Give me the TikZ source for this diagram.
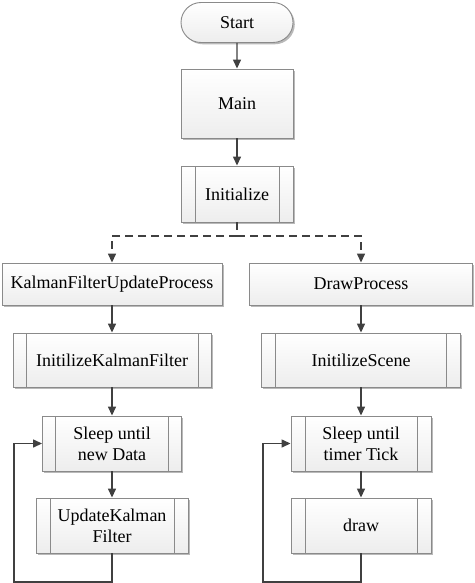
\documentclass[tikz,border=0pt]{standalone}
\usepackage{fontspec}
\setmainfont{Liberation Serif}
\usetikzlibrary{arrows.meta,shadows,shapes.misc}
\definecolor{edgec}{HTML}{8A8A8A}
\definecolor{linec}{HTML}{404040}
\tikzset{
  box/.style={draw=edgec, line width=0.9pt, top color=white, bottom color=gray!14,
    general shadow={fill=gray!55, shadow xshift=1.8pt, shadow yshift=-1.8pt},
    font=\fontsize{18}{21}\selectfont, align=center, inner sep=0pt},
  predef/.style={box, path picture={
    \draw[edgec, line width=0.9pt] ([xshift=#1]path picture bounding box.north west) -- ([xshift=#1]path picture bounding box.south west);
    \draw[edgec, line width=0.9pt] ([xshift=-#1]path picture bounding box.north east) -- ([xshift=-#1]path picture bounding box.south east);}},
  arr/.style={draw=linec, line width=1.4pt, -{Triangle[length=9pt,width=8pt]}},
  dsh/.style={arr, dash pattern=on 8pt off 5pt},
  lin/.style={draw=linec, line width=1.4pt}
}
\begin{document}
\begin{tikzpicture}[x=1pt,y=-1pt]
\useasboundingbox (0,0) rectangle (474,583);
\node[box, rounded rectangle, minimum width=112pt, minimum height=40pt] (start) at (237,22.5) {Start};
\node[box, minimum width=112pt, minimum height=69pt] (main) at (237,103.5) {Main};
\node[predef=14pt, minimum width=112pt, minimum height=56pt] (init) at (237,194) {Initialize};
\node[box, minimum width=220pt, minimum height=42pt] (kfup) at (112,284) {KalmanFilterUpdateProcess};
\node[box, minimum width=223pt, minimum height=42pt] (dp) at (361,284) {DrawProcess};
\node[predef=13pt, minimum width=198pt, minimum height=54pt] (ikf) at (112,360) {InitilizeKalmanFilter};
\node[predef=14pt, minimum width=199pt, minimum height=54pt] (is) at (361,360) {InitilizeScene};
\node[predef=13pt, minimum width=139pt, minimum height=55pt] (sd) at (112,443.5) {Sleep until\\new Data};
\node[predef=14pt, minimum width=152pt, minimum height=55pt] (uk) at (112,525.5) {UpdateKalman\\Filter};
\node[predef=14pt, minimum width=140pt, minimum height=55pt] (st) at (361,443.5) {Sleep until\\timer Tick};
\node[predef=14pt, minimum width=140pt, minimum height=55pt] (dr) at (361,525.5) {draw};
\coordinate (split) at (237,236);
\coordinate (lb) at (14,582);
\coordinate (rb) at (263,582);
\draw[arr] (start) -- (main);
\draw[arr] (main) -- (init);
\draw[lin, dash pattern=on 8pt off 5pt] (init) -- (split);
\draw[dsh] (split) -| (kfup);
\draw[dsh] (split) -| (dp);
\draw[arr] (kfup) -- (ikf);
\draw[arr] (ikf) -- (sd);
\draw[arr] (sd) -- (uk);
\draw[arr] (uk.south) |- (lb) |- (sd.west);
\draw[arr] (dp) -- (is);
\draw[arr] (is) -- (st);
\draw[arr] (st) -- (dr);
\draw[arr] (dr.south) |- (rb) |- (st.west);
\end{tikzpicture}
\end{document}
